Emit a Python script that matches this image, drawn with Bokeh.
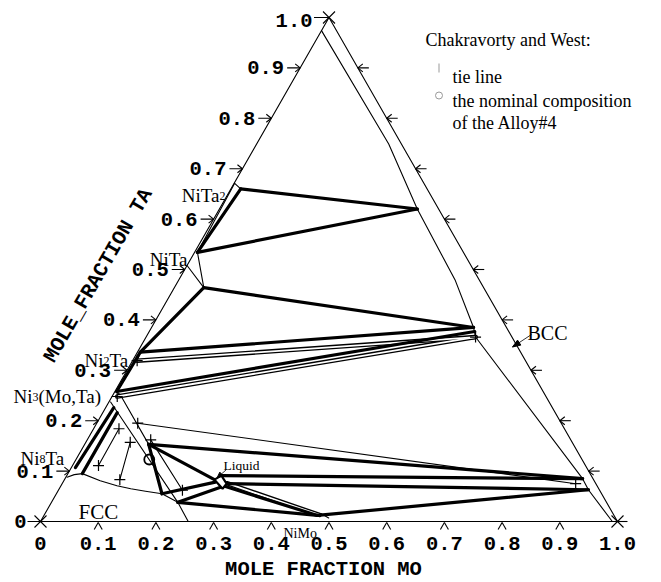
import math
from bokeh.plotting import figure
from bokeh.models import Range1d
from bokeh.embed import file_html
from bokeh.resources import INLINE
from bokeh.core.properties import value

# ---------------- data: compositions (x_Mo, x_Ta) ----------------
tick_values = [0.1, 0.2, 0.3, 0.4, 0.5, 0.6, 0.7, 0.8, 0.9]
bottom_tick_labels = ["0", "0.1", "0.2", "0.3", "0.4", "0.5", "0.6", "0.7", "0.8", "0.9", "1.0"]
left_tick_labels = ["0.1", "0.2", "0.3", "0.4", "0.5", "0.6", "0.7", "0.8", "0.9"]

NITA2 = (0.017, 0.660)
NITA2_EDGE = (0.001, 0.671)
NITA = (0.005, 0.534)
NITA_EDGE = (0.000, 0.508)
NITA_LOW = (0.051, 0.464)
NI2TA = (0.005, 0.336)
NI2TA_LOW = (0.008, 0.319)
NI3 = (0.003, 0.258)
NI3_LOW = (0.009, 0.248)
NI3_BAND_L = (0.003, 0.237)
NI3_BAND_R = (0.014, 0.250)
NI3_BAND_END = (0.256, 0.000)
NI3_A = (0.014, 0.226)
NI3_B = (0.025, 0.216)
NI8TA = (0.007, 0.107)
NI8TA_B = (0.025, 0.095)
V1 = (0.111, 0.153)
V2 = (0.183, 0.055)
V3 = (0.219, 0.038)
NIMO = (0.474, 0.012)
NIMO_WEDGE = [(0.474, 0.012), (0.478, 0.016), (0.496, 0.007)]
BCC_1 = (0.343, 0.620)
BCC_2 = (0.558, 0.385)
BCC_3 = (0.564, 0.377)
BCC_4 = (0.571, 0.366)
BCC_5 = (0.897, 0.085)
BCC_6 = (0.918, 0.063)
LIQ_W = (0.260, 0.083)
LIQ_N = (0.268, 0.091)
LIQ_E = (0.285, 0.075)
LIQ_S = (0.283, 0.065)
LIQ_SW = (0.264, 0.078)
LIQ_SE = (0.278, 0.068)
LIQ_E2 = (0.281, 0.071)
ALLOY4 = (0.127, 0.123)

bcc_boundary = [(0.000, 0.974), (0.229, 0.749), (0.343, 0.620), (0.480, 0.478), (0.558, 0.385),
                (0.571, 0.366), (0.897, 0.085), (0.918, 0.063), (0.991, 0.000)]
fcc_boundary = [(0.025, 0.095), (0.063, 0.081), (0.097, 0.071), (0.124, 0.065), (0.152, 0.060),
                (0.183, 0.055), (0.219, 0.038)]
ni8ta_arc = [(0.002, 0.088), (0.012, 0.093), (0.025, 0.095)]

thick_ties = [(NITA2, BCC_1), (NITA, BCC_1), (NITA2, NITA), (NITA_LOW, BCC_2), (NITA_LOW, NI2TA),
              (NI2TA, BCC_2), (NI2TA, NI3), (NI3, BCC_3), (NI8TA, NI3_A), (NI8TA_B, NI3_B),
              (V1, BCC_5), (V1, LIQ_W), (V1, V2), (V2, LIQ_SW), (V3, LIQ_SE), (LIQ_N, BCC_5),
              (LIQ_E, BCC_6), (LIQ_E2, NIMO), (V3, NIMO), (NIMO, BCC_6)]
hollow_ties = [(NI2TA_LOW, BCC_4), (NI3_LOW, BCC_4), ((0.285, 0.076), (0.477, 0.013))]
cw_ties = [((0.044, 0.184), (0.045, 0.111)), ((0.077, 0.157), (0.096, 0.083)),
           ((0.071, 0.195), (0.890, 0.075)), ((0.110, 0.162), (0.215, 0.062))]
cw_points = [NI2TA_LOW, NI3_LOW, BCC_4]
thin_paths = [[NITA2_EDGE, NITA2], [NITA2_EDGE, NITA], [NITA, NITA_LOW], [NITA_EDGE, NITA_LOW],
              [NI2TA, NI2TA_LOW], [NI3, NI3_BAND_R, V1], [NI3_BAND_L, V3, NI3_BAND_END],
              fcc_boundary, ni8ta_arc, bcc_boundary, NIMO_WEDGE]
liquid_region = [LIQ_W, LIQ_N, LIQ_E, LIQ_S]

# ---------------- geometry helpers ----------------
SX, SY = 577.0, 504.0   # pixels per unit along Mo axis / triangle height
OX, OY = 40.0, 521.0    # pixel position of Ni corner
W, H = 661, 582


def cart(c):
    m, t = c
    return m + t / 2.0, t


def pix(px, py):
    return (px - OX) / SX, (OY - py) / SY


def shift(pt, dx, dy):
    return pt[0] + dx / SX, pt[1] - dy / SY


p = figure(width=W, height=H, x_range=Range1d(-OX / SX, (W - OX) / SX),
           y_range=Range1d((OY - H) / SY, OY / SY), output_backend="svg",
           toolbar_location=None, x_axis_type=None, y_axis_type=None, min_border=0)
p.outline_line_color = None
p.background_fill_color = "white"
p.border_fill_color = "white"


def draw_paths(paths, width, color="black"):
    xs = [[cart(c)[0] for c in path] for path in paths]
    ys = [[cart(c)[1] for c in path] for path in paths]
    p.multi_line(xs, ys, line_color=color, line_width=width, line_join="round", line_cap="round")


def draw_segs(pts_pairs, width, color="black"):
    x0 = [a[0] for a, b in pts_pairs]
    y0 = [a[1] for a, b in pts_pairs]
    x1 = [b[0] for a, b in pts_pairs]
    y1 = [b[1] for a, b in pts_pairs]
    p.segment(x0, y0, x1, y1, line_color=color, line_width=width)


def txt(pt, s, size, font="Liberation Serif", align="left", baseline="alphabetic",
        style="normal", angle=0.0, color="black"):
    p.text(x=[pt[0]], y=[pt[1]], text=[s], text_font=value(font),
           text_font_size=value(f"{size}px"), text_align=align, text_baseline=baseline,
           text_font_style=style, angle=angle, text_color=color)


# triangle
draw_paths([[(0, 0), (1, 0), (0, 1), (0, 0)]], 1.1)

# ticks
segs = []
for t in tick_values:
    e = cart((0, t))
    segs += [(shift(e, -13, 0), e), (shift(e, -5, -4), e), (shift(e, -5, 4), e)]
    r = cart((1 - t, t))
    segs += [(r, shift(r, 11, 0)), (r, shift(r, 5, -4)), (r, shift(r, 5, 4))]
    b = cart((t, 0))
    segs += [(shift(b, -4, 8), shift(b, 0, 1)), (shift(b, 0, 1), shift(b, 4, 8))]
for v in [(0, 0), (1, 0), (0, 1)]:
    c = cart(v)
    segs += [(shift(c, -6, -6), shift(c, 6, 6)), (shift(c, -6, 6), shift(c, 6, -6))]
segs += [(shift(cart((0, 0)), -13, 0), cart((0, 0))), (cart((1, 0)), shift(cart((1, 0)), 10, 0)),
         (shift(cart((0, 1)), -15, 0), cart((0, 1)))]
draw_segs(segs, 1.1)

# phase boundaries and tie lines
draw_paths(thin_paths, 1.1)
draw_paths([[a, b] for a, b in cw_ties], 1.1)
draw_paths([[a, b] for a, b in hollow_ties], 4.5)
draw_paths([[a, b] for a, b in hollow_ties], 1.8, color="white")
draw_paths([[a, b] for a, b in thick_ties], 3.2)

lx = [cart(c)[0] for c in liquid_region]
ly = [cart(c)[1] for c in liquid_region]
p.patch(lx, ly, fill_color="white", line_color="black", line_width=2.2)

plus_pts = [a for a, b in cw_ties] + [b for a, b in cw_ties] + cw_points
p.scatter([cart(c)[0] for c in plus_pts], [cart(c)[1] for c in plus_pts], marker="cross",
          size=11, line_color="black", line_width=1.2)
p.scatter([cart(ALLOY4)[0]], [cart(ALLOY4)[1]], marker="circle", size=10,
          fill_color=None, line_color="black", line_width=1.8)


# pointers with filled arrowheads (pixel geometry)
def pointer(tail, tip, head_len=8, head_w=3):
    dx, dy = tip[0] - tail[0], tip[1] - tail[1]
    L = math.hypot(dx, dy)
    ux, uy = dx / L, dy / L
    bx, by = tip[0] - ux * head_len, tip[1] - uy * head_len
    a = pix(bx - uy * head_w, by + ux * head_w)
    b = pix(bx + uy * head_w, by - ux * head_w)
    t0 = pix(*tail)
    t1 = pix(*tip)
    p.segment([t0[0]], [t0[1]], [t1[0]], [t1[1]], line_color="black", line_width=0.8)
    p.patch([t1[0], a[0], b[0]], [t1[1], a[1], b[1]], fill_color="black", line_color="black")


pointer((531, 334), (512, 346.5))
pointer((226, 469), (216.5, 477.5), head_len=6, head_w=2.5)

# tick labels
MONO = "Liberation Mono"
FS = 20.5
for m, lab in zip([i / 10 for i in range(11)], bottom_tick_labels):
    txt(shift(cart((m, 0)), 0, 22), lab, FS, font=MONO, align="center", baseline="middle", style="bold")
for t, lab in zip(tick_values, left_tick_labels):
    txt(shift(cart((0, t)), -16, 0), lab, FS, font=MONO, align="right", baseline="middle", style="bold")
txt(pix(26, 521), "0", FS, font=MONO, align="right", baseline="middle", style="bold")
txt(pix(312, 20), "1.0", FS, font=MONO, align="right", baseline="middle", style="bold")

# axis titles
txt(pix(323, 569), "MOLE FRACTION MO", FS, font=MONO, align="center", baseline="middle", style="bold")
txt(pix(98, 275), "MOLE_FRACTION TA", FS, font=MONO, align="center", baseline="middle",
    style="bold", angle=math.radians(60))

# phase labels
txt(pix(219, 195), "NiTa", 19, align="right")
txt(pix(219, 195), "2", 12)
txt(pix(187, 259), "NiTa", 19, align="right")
txt(pix(84, 360), "Ni", 19)
txt(pix(103, 360), "2", 12)
txt(pix(109, 360), "Ta", 19)
txt(pix(13, 396), "Ni", 19)
txt(pix(32, 396), "3", 12)
txt(pix(38, 396), "(Mo,Ta)", 19)
txt(pix(20, 458), "Ni", 19)
txt(pix(39, 458), "8", 12)
txt(pix(45, 458), "Ta", 19)
txt(pix(78, 511), "FCC", 21)
txt(pix(527, 332), "BCC", 20)
txt(pix(223, 465), "Liquid", 13.5)
txt(pix(283, 533), "NiMo", 14)

# legend
txt(pix(425, 39), "Chakravorty and West:", 18)
txt(pix(452, 76), "tie line", 18)
txt(pix(452, 100), "the nominal composition", 18)
txt(pix(452, 122), "of the Alloy#4", 18)
g0, g1 = pix(438.5, 63), pix(438.5, 72)
p.segment([g0[0]], [g0[1]], [g1[0]], [g1[1]], line_color="#aaaaaa", line_width=1.2)
gc = pix(438.5, 95)
p.scatter([gc[0]], [gc[1]], marker="circle", size=7, fill_color=None, line_color="#999999", line_width=1)

open("out.html", "w").write(file_html(p, INLINE))
